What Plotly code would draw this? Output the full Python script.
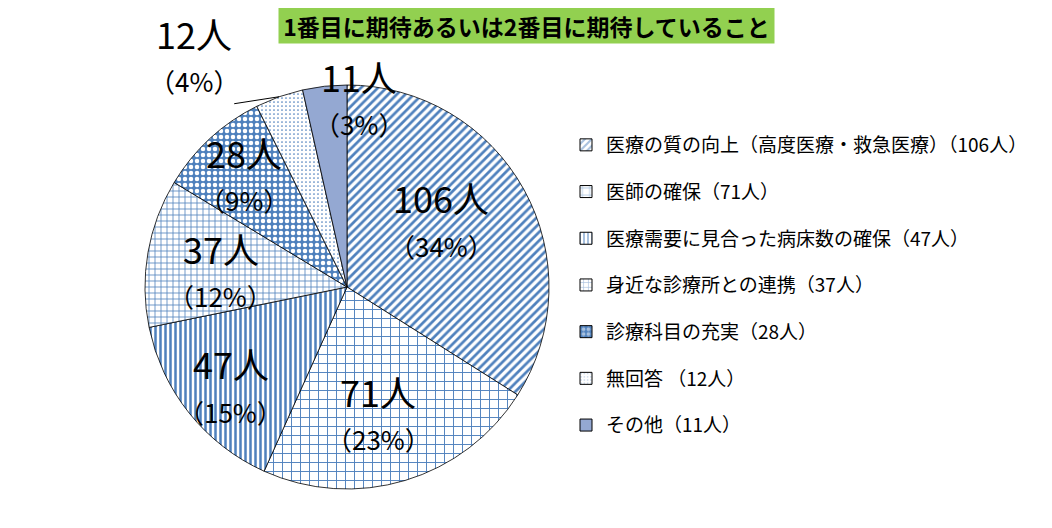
import math
import plotly.graph_objects as go

# 回答データ
labels = [
    "医療の質の向上（高度医療・救急医療）",
    "医師の確保",
    "医療需要に見合った病床数の確保",
    "身近な診療所との連携",
    "診療科目の充実",
    "無回答 ",
    "その他",
]
counts = [106, 71, 47, 37, 28, 12, 11]
title_text = "1番目に期待あるいは2番目に期待していること"

BLUE = "#4F81BD"
patterns = [
    dict(shape="/", fgcolor=BLUE, bgcolor="white", size=6, solidity=0.45),
    dict(shape="+", fgcolor=BLUE, bgcolor="white", size=9, solidity=0.2),
    dict(shape="|", fgcolor=BLUE, bgcolor="white", size=5, solidity=0.5),
    dict(shape="+", fgcolor=BLUE, bgcolor="white", size=6, solidity=0.25),
    dict(shape=".", fgcolor="white", bgcolor=BLUE, size=6, solidity=0.45),
    dict(shape=".", fgcolor=BLUE, bgcolor="white", size=4, solidity=0.15),
    dict(shape="", fgcolor=BLUE, bgcolor="white", size=6, solidity=0.3),
]
slice_colors = ["white"] * 6 + ["#94A8D2"]

W, H = 1052, 528
OFF = 8  # page body margin
cx, cy, R = 347 - OFF, 287 - OFF, 202  # pie placement in px


def xp(px):
    return px / W


def yp(py):
    return 1 - py / H


fig = go.Figure()
fig.add_trace(go.Pie(
    labels=labels,
    values=counts,
    sort=False,
    direction="clockwise",
    rotation=0,
    textinfo="none",
    hoverinfo="label+value+percent",
    showlegend=False,
    marker=dict(colors=slice_colors,
                line=dict(color="black", width=0.8),
                pattern=dict(
                    shape=[p["shape"] for p in patterns],
                    fgcolor=[p["fgcolor"] for p in patterns],
                    bgcolor=[p["bgcolor"] if p["shape"] else c for p, c in zip(patterns, slice_colors)],
                    size=[p["size"] for p in patterns],
                    solidity=[p["solidity"] for p in patterns],
                )),
    domain=dict(x=[xp(cx - R), xp(cx + R)], y=[yp(cy + R), yp(cy - R)]),
))

# legend entries (dummy bars so each item can have its own gap)
for name, n, p, c in zip(labels, counts, patterns, slice_colors):
    fig.add_trace(go.Bar(
        x=[None], y=[None], name=f"{name}（{n}人）",
        legendgroup=name,
        marker=dict(color=c, line=dict(color="black", width=1),
                    pattern=p if p["shape"] else None),
    ))

# percentages rounded so that they add up to 100 (largest remainder)
total = sum(counts)
raw = [n / total * 100 for n in counts]
pcts = [math.floor(r) for r in raw]
order = sorted(range(len(raw)), key=lambda i: raw[i] - pcts[i], reverse=True)
for i in order[:100 - sum(pcts)]:
    pcts[i] += 1

# slice labels
label_r = [0.57, 0.65, 0.76, 0.63, 0.75, 1.37, 0.93]
label_shift = [-6, 3, -2, -3, 0, -14, 10]
cum = 0
for i, n in enumerate(counts):
    mid = (cum + n / 2) / total * 360
    cum += n
    ang = math.radians(mid + label_shift[i])
    px = cx + R * label_r[i] * math.sin(ang)
    py = cy - R * label_r[i] * math.cos(ang)
    fig.add_annotation(x=xp(px), y=yp(py - 24), xref="paper", yref="paper",
                       xanchor="center", yanchor="middle",
                       text=f"{n}人", showarrow=False,
                       font=dict(size=36, color="black"))
    fig.add_annotation(x=xp(px), y=yp(py + 24), xref="paper", yref="paper",
                       xanchor="center", yanchor="middle",
                       text=f"（{pcts[i]}%）", showarrow=False,
                       font=dict(size=26, color="black"))
    if label_r[i] > 1:
        edge = math.radians(mid)
        ex = cx + R * math.sin(edge)
        ey = cy - R * math.cos(edge)
        fig.add_shape(type="line", xref="paper", yref="paper",
                      x0=xp(ex), y0=yp(ey), x1=xp(ex - 45), y1=yp(ey + 7),
                      line=dict(color="black", width=1))

fig.add_annotation(x=xp(526 - OFF), y=yp(25.5 - OFF), xref="paper", yref="paper",
                   xanchor="center", yanchor="middle",
                   text=f"<b>{title_text}</b>", showarrow=False,
                   bgcolor="#92D050", width=493, height=33,
                   font=dict(size=23, color="black"))

fig.update_layout(
    width=W, height=H,
    margin=dict(l=0, r=0, t=0, b=0),
    paper_bgcolor="white", plot_bgcolor="white",
    font=dict(family="Noto Sans CJK JP, sans-serif", color="black"),
    xaxis=dict(visible=False), yaxis=dict(visible=False),
    legend=dict(x=xp(558), y=yp(118), xanchor="left", yanchor="top",
                font=dict(size=19), tracegroupgap=19, itemclick=False,
                bgcolor="rgba(0,0,0,0)"),
)

fig.write_html("out.html")
